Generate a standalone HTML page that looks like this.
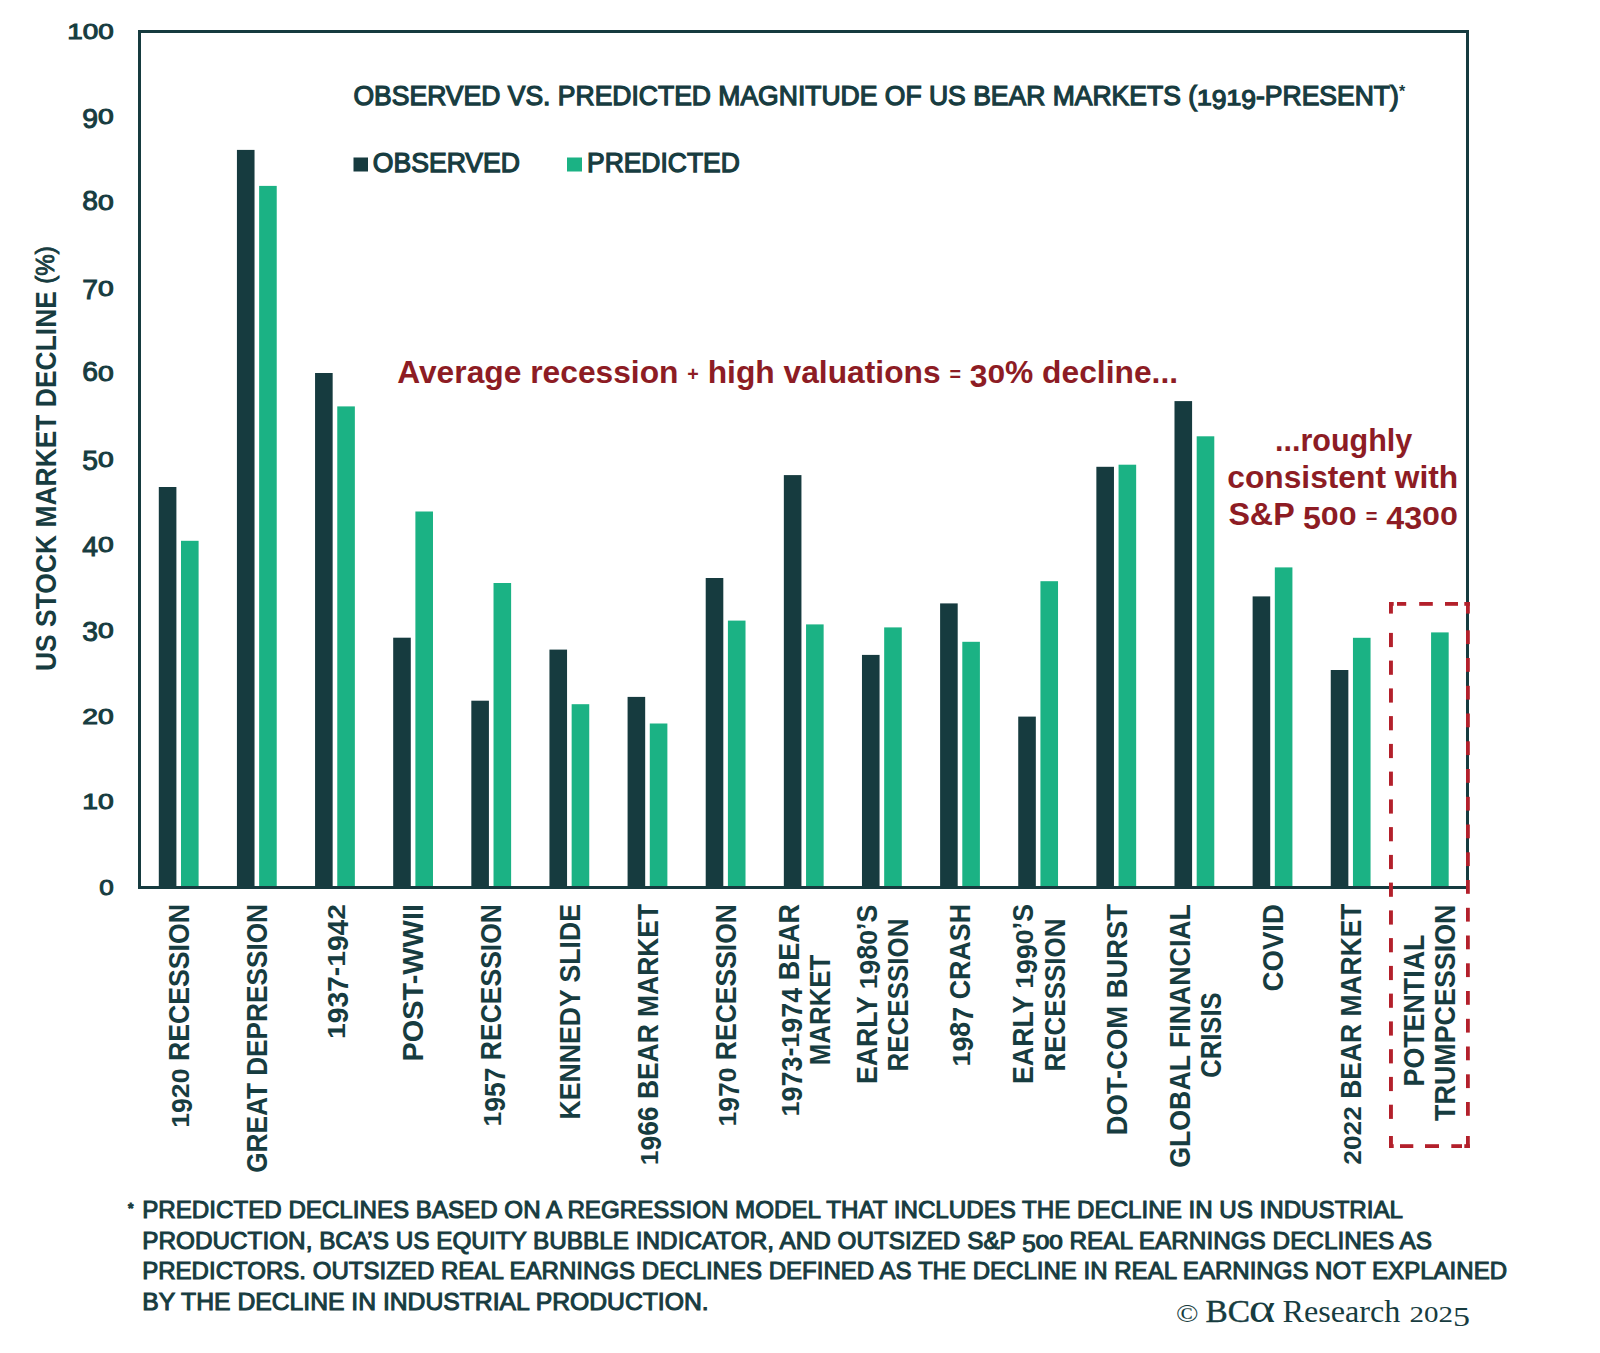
<!DOCTYPE html><html><head><meta charset="utf-8"><style>html,body{margin:0;padding:0;background:#fff;width:1600px;height:1353px;overflow:hidden}svg{display:block}text{font-family:"Liberation Sans",sans-serif;font-weight:bold}</style></head><body>
<svg width="1600" height="1353" viewBox="0 0 1600 1353">
<rect x="0" y="0" width="1600" height="1353" fill="#fff"/>
<rect x="158.80" y="487.0" width="17.6" height="399.0" fill="#163b3f"/>
<rect x="181.00" y="540.8" width="17.6" height="345.2" fill="#1bb284"/>
<rect x="236.93" y="149.9" width="17.6" height="736.1" fill="#163b3f"/>
<rect x="259.13" y="185.9" width="17.6" height="700.1" fill="#1bb284"/>
<rect x="315.06" y="373.0" width="17.6" height="513.0" fill="#163b3f"/>
<rect x="337.26" y="406.4" width="17.6" height="479.6" fill="#1bb284"/>
<rect x="393.19" y="637.7" width="17.6" height="248.3" fill="#163b3f"/>
<rect x="415.39" y="511.5" width="17.6" height="374.5" fill="#1bb284"/>
<rect x="471.32" y="700.7" width="17.6" height="185.3" fill="#163b3f"/>
<rect x="493.52" y="583.0" width="17.6" height="303.0" fill="#1bb284"/>
<rect x="549.45" y="649.6" width="17.6" height="236.4" fill="#163b3f"/>
<rect x="571.65" y="704.2" width="17.6" height="181.8" fill="#1bb284"/>
<rect x="627.58" y="696.9" width="17.6" height="189.1" fill="#163b3f"/>
<rect x="649.78" y="723.5" width="17.6" height="162.5" fill="#1bb284"/>
<rect x="705.71" y="578.0" width="17.6" height="308.0" fill="#163b3f"/>
<rect x="727.91" y="620.6" width="17.6" height="265.4" fill="#1bb284"/>
<rect x="783.84" y="475.1" width="17.6" height="410.9" fill="#163b3f"/>
<rect x="806.04" y="624.4" width="17.6" height="261.6" fill="#1bb284"/>
<rect x="861.97" y="654.9" width="17.6" height="231.1" fill="#163b3f"/>
<rect x="884.17" y="627.4" width="17.6" height="258.6" fill="#1bb284"/>
<rect x="940.10" y="603.4" width="17.6" height="282.6" fill="#163b3f"/>
<rect x="962.30" y="641.8" width="17.6" height="244.2" fill="#1bb284"/>
<rect x="1018.23" y="716.6" width="17.6" height="169.4" fill="#163b3f"/>
<rect x="1040.43" y="581.2" width="17.6" height="304.8" fill="#1bb284"/>
<rect x="1096.36" y="466.8" width="17.6" height="419.2" fill="#163b3f"/>
<rect x="1118.56" y="464.7" width="17.6" height="421.3" fill="#1bb284"/>
<rect x="1174.49" y="401.1" width="17.6" height="484.9" fill="#163b3f"/>
<rect x="1196.69" y="436.3" width="17.6" height="449.7" fill="#1bb284"/>
<rect x="1252.62" y="596.4" width="17.6" height="289.6" fill="#163b3f"/>
<rect x="1274.82" y="567.4" width="17.6" height="318.6" fill="#1bb284"/>
<rect x="1330.75" y="670.0" width="17.6" height="216.0" fill="#163b3f"/>
<rect x="1352.95" y="637.8" width="17.6" height="248.2" fill="#1bb284"/>
<rect x="1431.08" y="632.4" width="17.6" height="253.6" fill="#1bb284"/>
<path d="M139.5 886 V31.5 H1467.5 V886" fill="none" stroke="#163b3f" stroke-width="3"/>
<rect x="138" y="886" width="1331" height="3" fill="#163b3f"/>
<text x="113.8" y="894.7" font-size="27" fill="#173c40" text-anchor="end" style="font-weight:normal" stroke="#173c40" stroke-width="1.0"><tspan font-size="22.81" textLength="14.50" lengthAdjust="spacingAndGlyphs">0</tspan></text>
<text x="113.8" y="809.1" font-size="27" fill="#173c40" text-anchor="end" style="font-weight:normal" stroke="#173c40" stroke-width="1.0"><tspan font-size="22.81" textLength="15.75" lengthAdjust="spacingAndGlyphs">1</tspan><tspan font-size="22.81" textLength="15.75" lengthAdjust="spacingAndGlyphs">0</tspan></text>
<text x="113.8" y="723.5" font-size="27" fill="#173c40" text-anchor="end" style="font-weight:normal" stroke="#173c40" stroke-width="1.0"><tspan font-size="22.81" textLength="15.75" lengthAdjust="spacingAndGlyphs">2</tspan><tspan font-size="22.81" textLength="15.75" lengthAdjust="spacingAndGlyphs">0</tspan></text>
<text x="113.8" y="637.9" font-size="27" fill="#173c40" text-anchor="end" style="font-weight:normal" stroke="#173c40" stroke-width="1.0"><tspan dy="3.20" textLength="15.75" lengthAdjust="spacingAndGlyphs">3</tspan><tspan font-size="22.81" dy="-3.20" textLength="15.75" lengthAdjust="spacingAndGlyphs">0</tspan></text>
<text x="113.8" y="552.3" font-size="27" fill="#173c40" text-anchor="end" style="font-weight:normal" stroke="#173c40" stroke-width="1.0"><tspan dy="3.20" textLength="15.75" lengthAdjust="spacingAndGlyphs">4</tspan><tspan font-size="22.81" dy="-3.20" textLength="15.75" lengthAdjust="spacingAndGlyphs">0</tspan></text>
<text x="113.8" y="466.7" font-size="27" fill="#173c40" text-anchor="end" style="font-weight:normal" stroke="#173c40" stroke-width="1.0"><tspan dy="3.20" textLength="15.75" lengthAdjust="spacingAndGlyphs">5</tspan><tspan font-size="22.81" dy="-3.20" textLength="15.75" lengthAdjust="spacingAndGlyphs">0</tspan></text>
<text x="113.8" y="381.1" font-size="27" fill="#173c40" text-anchor="end" style="font-weight:normal" stroke="#173c40" stroke-width="1.0"><tspan textLength="15.75" lengthAdjust="spacingAndGlyphs">6</tspan><tspan font-size="22.81" textLength="15.75" lengthAdjust="spacingAndGlyphs">0</tspan></text>
<text x="113.8" y="295.5" font-size="27" fill="#173c40" text-anchor="end" style="font-weight:normal" stroke="#173c40" stroke-width="1.0"><tspan dy="3.20" textLength="15.75" lengthAdjust="spacingAndGlyphs">7</tspan><tspan font-size="22.81" dy="-3.20" textLength="15.75" lengthAdjust="spacingAndGlyphs">0</tspan></text>
<text x="113.8" y="209.9" font-size="27" fill="#173c40" text-anchor="end" style="font-weight:normal" stroke="#173c40" stroke-width="1.0"><tspan textLength="15.75" lengthAdjust="spacingAndGlyphs">8</tspan><tspan font-size="22.81" textLength="15.75" lengthAdjust="spacingAndGlyphs">0</tspan></text>
<text x="113.8" y="124.3" font-size="27" fill="#173c40" text-anchor="end" style="font-weight:normal" stroke="#173c40" stroke-width="1.0"><tspan dy="3.20" textLength="15.75" lengthAdjust="spacingAndGlyphs">9</tspan><tspan font-size="22.81" dy="-3.20" textLength="15.75" lengthAdjust="spacingAndGlyphs">0</tspan></text>
<text x="113.8" y="38.7" font-size="27" fill="#173c40" text-anchor="end" style="font-weight:normal" stroke="#173c40" stroke-width="1.0"><tspan font-size="22.81" textLength="15.50" lengthAdjust="spacingAndGlyphs">1</tspan><tspan font-size="22.81" textLength="15.50" lengthAdjust="spacingAndGlyphs">0</tspan><tspan font-size="22.81" textLength="15.50" lengthAdjust="spacingAndGlyphs">0</tspan></text>
<g transform="translate(56.2 671.0) rotate(-90)">
<text x="0" y="0" font-size="29" fill="#173c40" textLength="424.8" lengthAdjust="spacingAndGlyphs">US STOCK MARKET DECLINE <tspan font-size="26.5" dy="-2.4" font-weight="normal" stroke="#173c40" stroke-width="0.9">(%)</tspan></text>
</g>
<g transform="translate(188.9 1127.8) rotate(-90)">
<text x="0.0" y="0.0" font-size="29" fill="#173c40"><tspan font-size="24.36" textLength="14.83" lengthAdjust="spacingAndGlyphs">1</tspan><tspan dy="3.20" textLength="14.83" lengthAdjust="spacingAndGlyphs">9</tspan><tspan font-size="24.36" dy="-3.20" textLength="14.83" lengthAdjust="spacingAndGlyphs">2</tspan><tspan font-size="24.36" textLength="14.83" lengthAdjust="spacingAndGlyphs">0</tspan><tspan textLength="164.44" lengthAdjust="spacingAndGlyphs"> RECESSION</tspan></text>
</g>
<g transform="translate(267.0 1172.8) rotate(-90)">
<text x="0.0" y="0.0" font-size="29" fill="#173c40"><tspan textLength="268.75" lengthAdjust="spacingAndGlyphs">GREAT DEPRESSION</tspan></text>
</g>
<g transform="translate(345.2 1039.0) rotate(-90)">
<text x="0.0" y="0.0" font-size="29" fill="#173c40"><tspan font-size="24.36" textLength="15.70" lengthAdjust="spacingAndGlyphs">1</tspan><tspan dy="3.20" textLength="15.70" lengthAdjust="spacingAndGlyphs">9</tspan><tspan textLength="15.70" lengthAdjust="spacingAndGlyphs">3</tspan><tspan textLength="15.70" lengthAdjust="spacingAndGlyphs">7</tspan><tspan dy="-3.20" textLength="9.40" lengthAdjust="spacingAndGlyphs">-</tspan><tspan font-size="24.36" textLength="15.70" lengthAdjust="spacingAndGlyphs">1</tspan><tspan dy="3.20" textLength="15.70" lengthAdjust="spacingAndGlyphs">9</tspan><tspan textLength="15.70" lengthAdjust="spacingAndGlyphs">4</tspan><tspan font-size="24.36" dy="-3.20" textLength="15.70" lengthAdjust="spacingAndGlyphs">2</tspan></text>
</g>
<g transform="translate(423.3 1061.5) rotate(-90)">
<text x="0.0" y="0.0" font-size="29" fill="#173c40"><tspan textLength="157.50" lengthAdjust="spacingAndGlyphs">POST-WWII</tspan></text>
</g>
<g transform="translate(501.4 1126.5) rotate(-90)">
<text x="0.0" y="0.0" font-size="29" fill="#173c40"><tspan font-size="24.36" textLength="14.74" lengthAdjust="spacingAndGlyphs">1</tspan><tspan dy="3.20" textLength="14.74" lengthAdjust="spacingAndGlyphs">9</tspan><tspan textLength="14.74" lengthAdjust="spacingAndGlyphs">5</tspan><tspan textLength="14.74" lengthAdjust="spacingAndGlyphs">7</tspan><tspan dy="-3.20" textLength="163.52" lengthAdjust="spacingAndGlyphs"> RECESSION</tspan></text>
</g>
<g transform="translate(579.5 1119.5) rotate(-90)">
<text x="0.0" y="0.0" font-size="29" fill="#173c40"><tspan textLength="215.50" lengthAdjust="spacingAndGlyphs">KENNEDY SLIDE</tspan></text>
</g>
<g transform="translate(657.7 1165.2) rotate(-90)">
<text x="0.0" y="0.0" font-size="29" fill="#173c40"><tspan font-size="24.36" textLength="14.69" lengthAdjust="spacingAndGlyphs">1</tspan><tspan dy="3.20" textLength="14.69" lengthAdjust="spacingAndGlyphs">9</tspan><tspan dy="-3.20" textLength="14.69" lengthAdjust="spacingAndGlyphs">6</tspan><tspan textLength="14.69" lengthAdjust="spacingAndGlyphs">6</tspan><tspan textLength="202.49" lengthAdjust="spacingAndGlyphs"> BEAR MARKET</tspan></text>
</g>
<g transform="translate(735.8 1126.5) rotate(-90)">
<text x="0.0" y="0.0" font-size="29" fill="#173c40"><tspan font-size="24.36" textLength="14.74" lengthAdjust="spacingAndGlyphs">1</tspan><tspan dy="3.20" textLength="14.74" lengthAdjust="spacingAndGlyphs">9</tspan><tspan textLength="14.74" lengthAdjust="spacingAndGlyphs">7</tspan><tspan font-size="24.36" dy="-3.20" textLength="14.74" lengthAdjust="spacingAndGlyphs">0</tspan><tspan textLength="163.52" lengthAdjust="spacingAndGlyphs"> RECESSION</tspan></text>
</g>
<g transform="translate(798.9 1116.5) rotate(-90)">
<text x="0.0" y="0.0" font-size="29" fill="#173c40"><tspan font-size="24.36" textLength="14.97" lengthAdjust="spacingAndGlyphs">1</tspan><tspan dy="3.20" textLength="14.97" lengthAdjust="spacingAndGlyphs">9</tspan><tspan textLength="14.97" lengthAdjust="spacingAndGlyphs">7</tspan><tspan textLength="14.97" lengthAdjust="spacingAndGlyphs">3</tspan><tspan dy="-3.20" textLength="8.97" lengthAdjust="spacingAndGlyphs">-</tspan><tspan font-size="24.36" textLength="14.97" lengthAdjust="spacingAndGlyphs">1</tspan><tspan dy="3.20" textLength="14.97" lengthAdjust="spacingAndGlyphs">9</tspan><tspan textLength="14.97" lengthAdjust="spacingAndGlyphs">7</tspan><tspan textLength="14.97" lengthAdjust="spacingAndGlyphs">4</tspan><tspan dy="-3.20" textLength="83.76" lengthAdjust="spacingAndGlyphs"> BEAR</tspan></text>
</g>
<g transform="translate(830.1 1065.2) rotate(-90)">
<text x="0.0" y="0.0" font-size="29" fill="#173c40"><tspan textLength="110.50" lengthAdjust="spacingAndGlyphs">MARKET</tspan></text>
</g>
<g transform="translate(877.1 1084.0) rotate(-90)">
<text x="0.0" y="0.0" font-size="29" fill="#173c40"><tspan textLength="94.79" lengthAdjust="spacingAndGlyphs">EARLY </tspan><tspan font-size="24.36" textLength="14.82" lengthAdjust="spacingAndGlyphs">1</tspan><tspan dy="3.20" textLength="14.82" lengthAdjust="spacingAndGlyphs">9</tspan><tspan dy="-3.20" textLength="14.82" lengthAdjust="spacingAndGlyphs">8</tspan><tspan font-size="24.36" textLength="14.82" lengthAdjust="spacingAndGlyphs">0</tspan><tspan textLength="25.18" lengthAdjust="spacingAndGlyphs">’S</tspan></text>
</g>
<g transform="translate(908.3 1071.5) rotate(-90)">
<text x="0.0" y="0.0" font-size="29" fill="#173c40"><tspan textLength="153.00" lengthAdjust="spacingAndGlyphs">RECESSION</tspan></text>
</g>
<g transform="translate(970.2 1066.5) rotate(-90)">
<text x="0.0" y="0.0" font-size="29" fill="#173c40"><tspan font-size="24.36" textLength="14.92" lengthAdjust="spacingAndGlyphs">1</tspan><tspan dy="3.20" textLength="14.92" lengthAdjust="spacingAndGlyphs">9</tspan><tspan dy="-3.20" textLength="14.92" lengthAdjust="spacingAndGlyphs">8</tspan><tspan dy="3.20" textLength="14.92" lengthAdjust="spacingAndGlyphs">7</tspan><tspan dy="-3.20" textLength="102.83" lengthAdjust="spacingAndGlyphs"> CRASH</tspan></text>
</g>
<g transform="translate(1033.3 1084.0) rotate(-90)">
<text x="0.0" y="0.0" font-size="29" fill="#173c40"><tspan textLength="95.19" lengthAdjust="spacingAndGlyphs">EARLY </tspan><tspan font-size="24.36" textLength="14.88" lengthAdjust="spacingAndGlyphs">1</tspan><tspan dy="3.20" textLength="14.88" lengthAdjust="spacingAndGlyphs">9</tspan><tspan textLength="14.88" lengthAdjust="spacingAndGlyphs">9</tspan><tspan font-size="24.36" dy="-3.20" textLength="14.88" lengthAdjust="spacingAndGlyphs">0</tspan><tspan textLength="25.28" lengthAdjust="spacingAndGlyphs">’S</tspan></text>
</g>
<g transform="translate(1064.5 1071.5) rotate(-90)">
<text x="0.0" y="0.0" font-size="29" fill="#173c40"><tspan textLength="153.00" lengthAdjust="spacingAndGlyphs">RECESSION</tspan></text>
</g>
<g transform="translate(1126.5 1135.2) rotate(-90)">
<text x="0.0" y="0.0" font-size="29" fill="#173c40"><tspan textLength="231.25" lengthAdjust="spacingAndGlyphs">DOT-COM BURST</tspan></text>
</g>
<g transform="translate(1189.6 1167.8) rotate(-90)">
<text x="0.0" y="0.0" font-size="29" fill="#173c40"><tspan textLength="263.75" lengthAdjust="spacingAndGlyphs">GLOBAL FINANCIAL</tspan></text>
</g>
<g transform="translate(1220.8 1077.8) rotate(-90)">
<text x="0.0" y="0.0" font-size="29" fill="#173c40"><tspan textLength="85.50" lengthAdjust="spacingAndGlyphs">CRISIS</tspan></text>
</g>
<g transform="translate(1282.7 991.5) rotate(-90)">
<text x="0.0" y="0.0" font-size="29" fill="#173c40"><tspan textLength="87.50" lengthAdjust="spacingAndGlyphs">COVID</tspan></text>
</g>
<g transform="translate(1360.8 1164.8) rotate(-90)">
<text x="0.0" y="0.0" font-size="29" fill="#173c40"><tspan font-size="24.36" textLength="14.69" lengthAdjust="spacingAndGlyphs">2</tspan><tspan font-size="24.36" textLength="14.69" lengthAdjust="spacingAndGlyphs">0</tspan><tspan font-size="24.36" textLength="14.69" lengthAdjust="spacingAndGlyphs">2</tspan><tspan font-size="24.36" textLength="14.69" lengthAdjust="spacingAndGlyphs">2</tspan><tspan textLength="202.53" lengthAdjust="spacingAndGlyphs"> BEAR MARKET</tspan></text>
</g>
<g transform="translate(1424.0 1086.5) rotate(-90)">
<text x="0.0" y="0.0" font-size="29" fill="#173c40"><tspan textLength="151.90" lengthAdjust="spacingAndGlyphs">POTENTIAL</tspan></text>
</g>
<g transform="translate(1455.2 1120.9) rotate(-90)">
<text x="0.0" y="0.0" font-size="29" fill="#173c40"><tspan textLength="216.40" lengthAdjust="spacingAndGlyphs">TRUMPCESSION</tspan></text>
</g>
<text x="353.5" y="105.3" font-size="27" fill="#173c40" style="font-weight:normal" stroke="#173c40" stroke-width="1.25"><tspan textLength="843.55" lengthAdjust="spacingAndGlyphs">OBSERVED VS. PREDICTED MAGNITUDE OF US BEAR MARKETS (</tspan><tspan font-size="21.60" textLength="14.74" lengthAdjust="spacingAndGlyphs">1</tspan><tspan dy="3.80" textLength="14.74" lengthAdjust="spacingAndGlyphs">9</tspan><tspan font-size="21.60" dy="-3.80" textLength="14.74" lengthAdjust="spacingAndGlyphs">1</tspan><tspan dy="3.80" textLength="14.74" lengthAdjust="spacingAndGlyphs">9</tspan><tspan dy="-3.80" textLength="142.87" lengthAdjust="spacingAndGlyphs">-PRESENT)</tspan></text>
<text x="1399.0" y="97.0" font-size="16" fill="#173c40">*</text>
<rect x="353.5" y="157.5" width="14.5" height="14" fill="#163b3f"/>
<text x="372.8" y="172.2" font-size="27" fill="#173c40" textLength="147.2" lengthAdjust="spacingAndGlyphs" style="font-weight:normal" stroke="#173c40" stroke-width="1.25">OBSERVED</text>
<rect x="567" y="157.5" width="15" height="14" fill="#1bb284"/>
<text x="587.0" y="172.2" font-size="27" fill="#173c40" textLength="152.8" lengthAdjust="spacingAndGlyphs" style="font-weight:normal" stroke="#173c40" stroke-width="1.25">PREDICTED</text>
<text x="397.2" y="382.5" font-size="32" fill="#8d1c24"><tspan textLength="290.13" lengthAdjust="spacingAndGlyphs">Average recession </tspan><tspan font-size="19.84" dy="-2.00" textLength="11.50" lengthAdjust="spacingAndGlyphs">+</tspan><tspan dy="2.00" textLength="250.59" lengthAdjust="spacingAndGlyphs"> high valuations </tspan><tspan font-size="19.84" dy="-2.00" textLength="11.50" lengthAdjust="spacingAndGlyphs">=</tspan><tspan dy="2.00" textLength="8.82" lengthAdjust="spacingAndGlyphs"> </tspan><tspan dy="4.40" textLength="17.66" lengthAdjust="spacingAndGlyphs">3</tspan><tspan font-size="25.60" dy="-4.40" textLength="17.66" lengthAdjust="spacingAndGlyphs">0</tspan><tspan textLength="172.98" lengthAdjust="spacingAndGlyphs">% decline...</tspan></text>
<text x="1275.0" y="451.2" font-size="32" fill="#8d1c24"><tspan textLength="137.30" lengthAdjust="spacingAndGlyphs">...roughly</tspan></text>
<text x="1227.3" y="488.2" font-size="32" fill="#8d1c24"><tspan textLength="230.90" lengthAdjust="spacingAndGlyphs">consistent with</tspan></text>
<text x="1228.4" y="524.5" font-size="32" fill="#8d1c24"><tspan textLength="74.58" lengthAdjust="spacingAndGlyphs">S&amp;P </tspan><tspan dy="4.40" textLength="17.91" lengthAdjust="spacingAndGlyphs">5</tspan><tspan font-size="25.60" dy="-4.40" textLength="17.91" lengthAdjust="spacingAndGlyphs">0</tspan><tspan font-size="25.60" textLength="17.91" lengthAdjust="spacingAndGlyphs">0</tspan><tspan textLength="8.95" lengthAdjust="spacingAndGlyphs"> </tspan><tspan font-size="19.84" dy="-2.00" textLength="11.66" lengthAdjust="spacingAndGlyphs">=</tspan><tspan dy="2.00" textLength="8.95" lengthAdjust="spacingAndGlyphs"> </tspan><tspan dy="4.40" textLength="17.91" lengthAdjust="spacingAndGlyphs">4</tspan><tspan textLength="17.91" lengthAdjust="spacingAndGlyphs">3</tspan><tspan font-size="25.60" dy="-4.40" textLength="17.91" lengthAdjust="spacingAndGlyphs">0</tspan><tspan font-size="25.60" textLength="17.91" lengthAdjust="spacingAndGlyphs">0</tspan></text>
<rect x="1389.0" y="602.0" width="3.9" height="11.6" fill="#b3202b"/>
<rect x="1389.0" y="602.0" width="4.7" height="3.8" fill="#b3202b"/>
<rect x="1466.0" y="602.0" width="3.8" height="11.6" fill="#b3202b"/>
<rect x="1464.3" y="602.0" width="5.5" height="3.8" fill="#b3202b"/>
<rect x="1389.0" y="1136.0" width="3.9" height="12.0" fill="#b3202b"/>
<rect x="1389.0" y="1144.2" width="4.7" height="3.8" fill="#b3202b"/>
<rect x="1466.0" y="1136.0" width="3.8" height="12.0" fill="#b3202b"/>
<rect x="1464.3" y="1144.2" width="5.5" height="3.8" fill="#b3202b"/>
<rect x="1389.0" y="632.9" width="3.9" height="14.2" fill="#b3202b"/>
<rect x="1466.0" y="630.3" width="3.8" height="13.8" fill="#b3202b"/>
<rect x="1389.0" y="660.6" width="3.9" height="14.2" fill="#b3202b"/>
<rect x="1466.0" y="658.0" width="3.8" height="13.8" fill="#b3202b"/>
<rect x="1389.0" y="688.4" width="3.9" height="14.2" fill="#b3202b"/>
<rect x="1466.0" y="685.8" width="3.8" height="13.8" fill="#b3202b"/>
<rect x="1389.0" y="716.1" width="3.9" height="14.2" fill="#b3202b"/>
<rect x="1466.0" y="713.5" width="3.8" height="13.8" fill="#b3202b"/>
<rect x="1389.0" y="743.9" width="3.9" height="14.2" fill="#b3202b"/>
<rect x="1466.0" y="741.3" width="3.8" height="13.8" fill="#b3202b"/>
<rect x="1389.0" y="771.6" width="3.9" height="14.2" fill="#b3202b"/>
<rect x="1466.0" y="769.0" width="3.8" height="13.8" fill="#b3202b"/>
<rect x="1389.0" y="799.4" width="3.9" height="14.2" fill="#b3202b"/>
<rect x="1466.0" y="796.8" width="3.8" height="13.8" fill="#b3202b"/>
<rect x="1389.0" y="827.1" width="3.9" height="14.2" fill="#b3202b"/>
<rect x="1466.0" y="824.5" width="3.8" height="13.8" fill="#b3202b"/>
<rect x="1389.0" y="854.9" width="3.9" height="14.2" fill="#b3202b"/>
<rect x="1466.0" y="852.3" width="3.8" height="13.8" fill="#b3202b"/>
<rect x="1389.0" y="882.6" width="3.9" height="14.2" fill="#b3202b"/>
<rect x="1466.0" y="880.0" width="3.8" height="13.8" fill="#b3202b"/>
<rect x="1389.0" y="910.4" width="3.9" height="14.2" fill="#b3202b"/>
<rect x="1466.0" y="907.8" width="3.8" height="13.8" fill="#b3202b"/>
<rect x="1389.0" y="938.1" width="3.9" height="14.2" fill="#b3202b"/>
<rect x="1466.0" y="935.5" width="3.8" height="13.8" fill="#b3202b"/>
<rect x="1389.0" y="965.9" width="3.9" height="14.2" fill="#b3202b"/>
<rect x="1466.0" y="963.3" width="3.8" height="13.8" fill="#b3202b"/>
<rect x="1389.0" y="993.6" width="3.9" height="14.2" fill="#b3202b"/>
<rect x="1466.0" y="991.0" width="3.8" height="13.8" fill="#b3202b"/>
<rect x="1389.0" y="1021.4" width="3.9" height="14.2" fill="#b3202b"/>
<rect x="1466.0" y="1018.8" width="3.8" height="13.8" fill="#b3202b"/>
<rect x="1389.0" y="1049.2" width="3.9" height="14.2" fill="#b3202b"/>
<rect x="1466.0" y="1046.5" width="3.8" height="13.8" fill="#b3202b"/>
<rect x="1389.0" y="1076.9" width="3.9" height="14.2" fill="#b3202b"/>
<rect x="1466.0" y="1074.3" width="3.8" height="13.8" fill="#b3202b"/>
<rect x="1389.0" y="1104.7" width="3.9" height="14.2" fill="#b3202b"/>
<rect x="1466.0" y="1102.0" width="3.8" height="13.8" fill="#b3202b"/>
<rect x="1397.0" y="602.0" width="9.2" height="3.8" fill="#b3202b"/>
<rect x="1419.2" y="602.0" width="13.6" height="3.8" fill="#b3202b"/>
<rect x="1445.0" y="602.0" width="13.0" height="3.8" fill="#b3202b"/>
<rect x="1400.0" y="1144.2" width="13.3" height="3.8" fill="#b3202b"/>
<rect x="1425.0" y="1144.2" width="14.0" height="3.8" fill="#b3202b"/>
<rect x="1451.3" y="1144.2" width="10.7" height="3.8" fill="#b3202b"/>
<text x="128.0" y="1212.8" font-size="14" fill="#173c40" stroke="#173c40" stroke-width="0.8">*</text>
<text x="142.2" y="1218.1" font-size="24.5" fill="#173c40" style="font-weight:normal" stroke="#173c40" stroke-width="1.05"><tspan textLength="1260.85" lengthAdjust="spacingAndGlyphs">PREDICTED DECLINES BASED ON A REGRESSION MODEL THAT INCLUDES THE DECLINE IN US INDUSTRIAL</tspan></text>
<text x="142.2" y="1248.8" font-size="24.5" fill="#173c40" style="font-weight:normal" stroke="#173c40" stroke-width="1.05"><tspan textLength="879.96" lengthAdjust="spacingAndGlyphs">PRODUCTION, BCA’S US EQUITY BUBBLE INDICATOR, AND OUTSIZED S&amp;P </tspan><tspan dy="3.40" textLength="13.52" lengthAdjust="spacingAndGlyphs">5</tspan><tspan font-size="19.60" dy="-3.40" textLength="13.52" lengthAdjust="spacingAndGlyphs">0</tspan><tspan font-size="19.60" textLength="13.52" lengthAdjust="spacingAndGlyphs">0</tspan><tspan textLength="369.33" lengthAdjust="spacingAndGlyphs"> REAL EARNINGS DECLINES AS</tspan></text>
<text x="142.2" y="1278.5" font-size="24.5" fill="#173c40" style="font-weight:normal" stroke="#173c40" stroke-width="1.05"><tspan textLength="1364.85" lengthAdjust="spacingAndGlyphs">PREDICTORS. OUTSIZED REAL EARNINGS DECLINES DEFINED AS THE DECLINE IN REAL EARNINGS NOT EXPLAINED</tspan></text>
<text x="142.2" y="1309.9" font-size="24.5" fill="#173c40" style="font-weight:normal" stroke="#173c40" stroke-width="1.05"><tspan textLength="566.45" lengthAdjust="spacingAndGlyphs">BY THE DECLINE IN INDUSTRIAL PRODUCTION.</tspan></text>
<text x="1176.0" y="1321.5" font-size="25" fill="#173c40" textLength="22.5" lengthAdjust="spacingAndGlyphs" style="font-family:'Liberation Serif',serif;font-weight:normal">©</text>
<text x="1205.5" y="1322.2" font-size="31" fill="#173c40" textLength="44.5" lengthAdjust="spacingAndGlyphs" style="font-family:'Liberation Serif',serif;font-weight:normal" stroke="#173c40" stroke-width="0.45">BC</text>
<text x="1248.8" y="1322.2" font-size="41" fill="#173c40" textLength="26.5" lengthAdjust="spacingAndGlyphs" style="font-family:'Liberation Serif',serif;font-weight:normal">α</text>
<text x="1282.6" y="1322.2" font-size="31.5" fill="#173c40" textLength="117.8" lengthAdjust="spacingAndGlyphs" style="font-family:'Liberation Serif',serif;font-weight:normal">Research</text>
<text x="1409.5" y="1322.2" font-size="23" fill="#173c40" textLength="60.5" lengthAdjust="spacingAndGlyphs" style="font-family:'Liberation Serif',serif;font-weight:normal">202<tspan font-size="27" dy="3.6">5</tspan></text>
</svg></body></html>
